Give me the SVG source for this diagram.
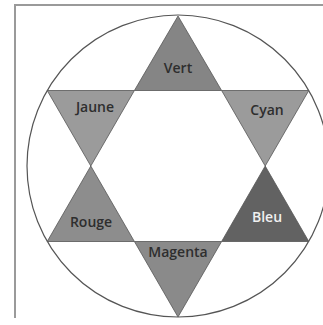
<svg xmlns="http://www.w3.org/2000/svg" width="323" height="325" viewBox="0 0 323 325">
<style>
.tri{stroke:#555;stroke-width:0.8;stroke-linejoin:miter}
.lbl{font-family:"Open Sans","Noto Sans",sans-serif;font-size:14px;font-weight:600;fill:#2e2e2e;text-anchor:middle}
</style>
<rect width="323" height="325" fill="#fff"/>
<g id="frame" fill="none" stroke="#9a9a9a" stroke-width="2">
<path d="M15,318 V5 H323"/>
</g>
<g id="circle"><circle cx="178" cy="166" r="151" fill="none" stroke="#555" stroke-width="1.2"/></g>
<g id="vert"><polygon class="tri" fill="#858585" points="178,16 134.4,90.5 221.6,90.5"/><text class="lbl" x="178" y="73">Vert</text></g>
<g id="jaune"><polygon class="tri" fill="#9b9b9b" points="47.2,90.5 134.4,90.5 90.8,166"/><text class="lbl" x="95" y="112">Jaune</text></g>
<g id="cyan"><polygon class="tri" fill="#9b9b9b" points="221.6,90.5 308.8,90.5 265.2,166"/><text class="lbl" x="267" y="115">Cyan</text></g>
<g id="rouge"><polygon class="tri" fill="#8d8d8d" points="90.8,166 47.2,241.5 134.4,241.5"/><text class="lbl" x="91" y="227">Rouge</text></g>
<g id="bleu"><polygon class="tri" fill="#626262" points="265.2,166 221.6,241.5 308.8,241.5"/><text class="lbl" x="267" y="222" style="fill:#f0f0f0">Bleu</text></g>
<g id="magenta"><polygon class="tri" fill="#8a8a8a" points="134.4,241.5 221.6,241.5 178,317"/><text class="lbl" x="178" y="257">Magenta</text></g>
</svg>
